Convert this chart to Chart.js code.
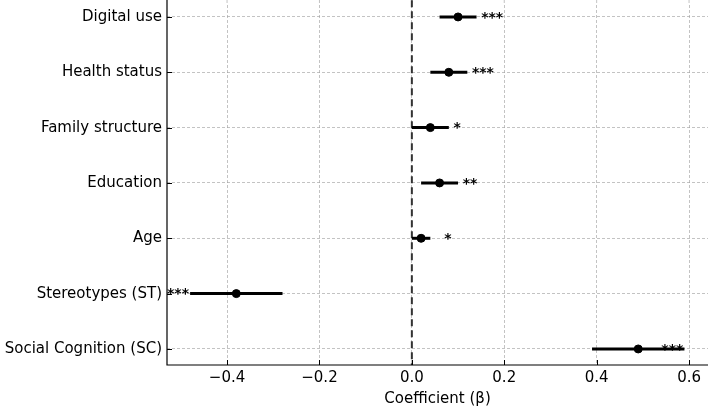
<!DOCTYPE html>
<html>
<head>
<meta charset="utf-8">
<script src="https://cdn.jsdelivr.net/npm/chart.js"></script>
<style>
  html, body { margin: 0; padding: 0; background: #fff; }
  #wrap { width: 715px; height: 409px; }
</style>
</head>
<body>
<div id="wrap"><canvas id="myChart"></canvas></div>
<script>
  // values
  const categories = ['Digital use', 'Health status', 'Family structure', 'Education', 'Age', 'Stereotypes (ST)', 'Social Cognition (SC)'];
  const coef   = [0.10, 0.08, 0.04, 0.06, 0.02, -0.38, 0.49];
  const ciLow  = [0.06, 0.04, 0.00, 0.02, 0.00, -0.48, 0.39];
  const ciHigh = [0.14, 0.12, 0.08, 0.10, 0.04, -0.28, 0.59];
  const stars  = ['***', '***', '*', '**', '*', '***', '***'];
  const starX  = [0.15, 0.13, 0.09, 0.11, 0.07, -0.53, 0.54];
  const xTicks = [-0.4, -0.2, 0.0, 0.2, 0.4, 0.6];
  const xTickLabels = ['\u22120.4', '\u22120.2', '0.0', '0.2', '0.4', '0.6'];

  const FONT = 'DejaVu Sans';
  const yMin = -0.216, yMax = 6.29;

  const datasets = [];
  // confidence intervals
  categories.forEach((c, i) => {
    datasets.push({
      type: 'line',
      data: [{ x: ciLow[i], y: i }, { x: ciHigh[i], y: i }],
      borderColor: '#000',
      borderWidth: 3,
      pointRadius: 0,
      order: 1
    });
  });
  // zero reference (runs up to the top edge of the figure)
  datasets.push({
    type: 'line',
    data: [{ x: 0, y: -0.3 }, { x: 0, y: yMax }],
    borderColor: '#333',
    borderWidth: 2,
    borderDash: [7, 4],
    pointRadius: 0,
    clip: false,
    order: 2
  });
  // point estimates
  datasets.push({
    type: 'scatter',
    data: coef.map((v, i) => ({ x: v, y: i })),
    backgroundColor: '#000',
    borderColor: '#000',
    pointRadius: 4,
    order: 0
  });

  const extras = {
    id: 'extras',
    beforeDatasetsDraw(chart) {
      // extend vertical grid lines to the top edge
      const ctx = chart.ctx;
      const xs = chart.scales.x;
      const a = chart.chartArea;
      ctx.save();
      ctx.strokeStyle = 'rgba(160,160,160,0.8)';
      ctx.lineWidth = 0.8;
      ctx.setLineDash([3, 2]);
      ctx.beginPath();
      xTicks.forEach(t => {
        const px = xs.getPixelForValue(t);
        ctx.moveTo(px, 0);
        ctx.lineTo(px, a.top);
      });
      ctx.stroke();
      ctx.restore();
    },
    afterDatasetsDraw(chart) {
      const ctx = chart.ctx;
      const xs = chart.scales.x, ys = chart.scales.y;
      const a = chart.chartArea;
      ctx.save();
      // inward tick marks + solid spines
      ctx.strokeStyle = '#000';
      ctx.lineWidth = 1;
      ctx.beginPath();
      xTicks.forEach(t => {
        const px = Math.round(xs.getPixelForValue(t)) + 0.5;
        ctx.moveTo(px, a.bottom);
        ctx.lineTo(px, a.bottom - 5);
      });
      categories.forEach((c, i) => {
        const py = Math.round(ys.getPixelForValue(i)) + 0.5;
        ctx.moveTo(a.left, py);
        ctx.lineTo(a.left + 5, py);
      });
      ctx.stroke();
      ctx.lineWidth = 1.2;
      ctx.beginPath();
      ctx.moveTo(a.left, 0);
      ctx.lineTo(a.left, a.bottom);
      ctx.lineTo(a.right, a.bottom);
      ctx.stroke();
      // significance stars
      ctx.fillStyle = '#000';
      ctx.font = 'bold 14px "' + FONT + '"';
      ctx.textAlign = 'left';
      ctx.textBaseline = 'middle';
      stars.forEach((s, i) => {
        ctx.fillText(s, xs.getPixelForValue(starX[i]), ys.getPixelForValue(i) + 1);
      });
      ctx.restore();
    }
  };

  const gridStyle = {
    color: 'rgba(160,160,160,0.8)',
    lineWidth: 0.8,
    drawTicks: false
  };

  new Chart(document.getElementById('myChart'), {
    type: 'scatter',
    data: { datasets: datasets },
    options: {
      responsive: true,
      maintainAspectRatio: false,
      animation: false,
      layout: { padding: { top: 0, right: 7, bottom: 0, left: 0 } },
      plugins: { legend: { display: false }, tooltip: { enabled: false } },
      scales: {
        x: {
          type: 'linear',
          min: -0.53,
          max: 0.641,
          afterBuildTicks: s => { s.ticks = xTicks.map(v => ({ value: v })); },
          afterFit: s => { s.height = 44; s.paddingLeft = 0; s.paddingRight = 0; },
          ticks: {
            color: '#000',
            font: { family: FONT, size: 15 },
            padding: 4,
            maxRotation: 0,
            callback: (v, i) => xTickLabels[i]
          },
          grid: gridStyle,
          border: { display: false, dash: [3, 2] },
          title: {
            display: true,
            text: 'Coefficient (\u03b2)',
            color: '#000',
            font: { family: FONT, size: 15 },
            padding: { top: 0, bottom: 1 }
          }
        },
        y: {
          type: 'linear',
          reverse: true,
          min: yMin,
          max: yMax,
          afterBuildTicks: s => { s.ticks = categories.map((c, i) => ({ value: i })); },
          afterFit: s => { s.width = 167; s.paddingTop = 0; s.paddingBottom = 0; },
          ticks: {
            color: '#000',
            font: { family: FONT, size: 15 },
            padding: 5,
            callback: (v) => categories[v]
          },
          grid: gridStyle,
          border: { display: false, dash: [3, 2] }
        }
      }
    },
    plugins: [extras]
  });
</script>
</body>
</html>
